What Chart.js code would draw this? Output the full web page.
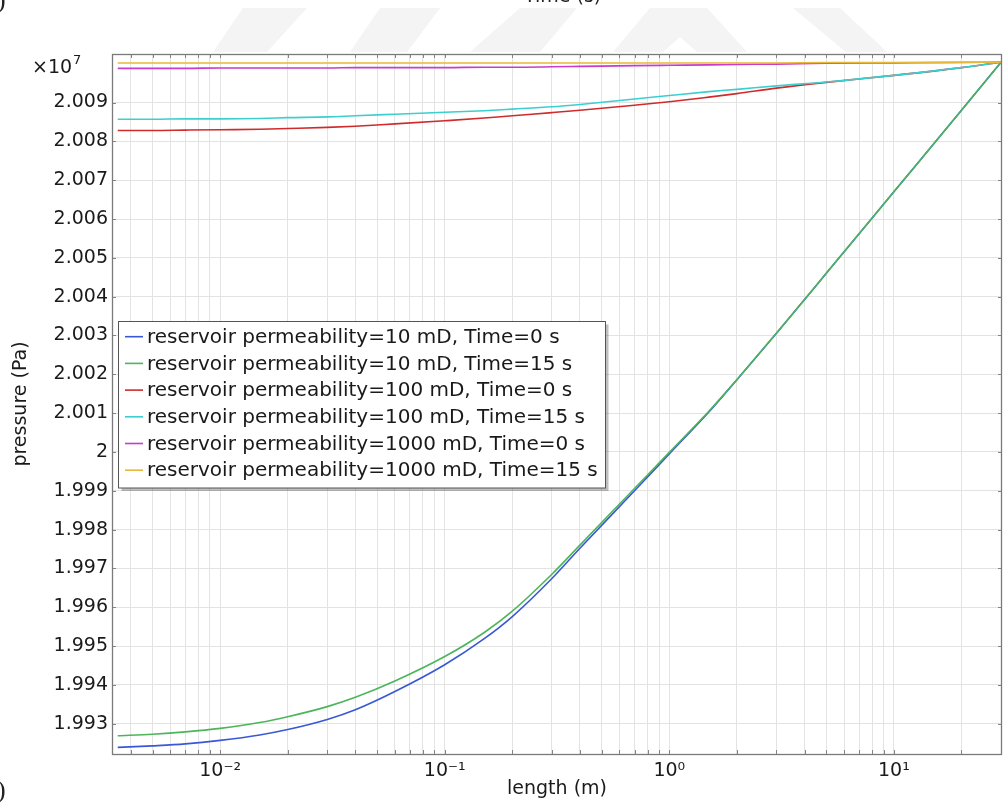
<!DOCTYPE html>
<html><head><meta charset="utf-8">
<script src="https://cdn.jsdelivr.net/npm/chart.js@4.4.1/dist/chart.umd.min.js"></script>
<style>html,body{margin:0;padding:0;background:#fff;}#wrap{width:1003px;height:804px;position:relative;}</style>
</head><body><div id="wrap"><canvas id="c"></canvas></div>
<script>
// ---- data (pressure in units of 1e7 Pa) ----
const lengthM   = [0.0035,0.005,0.007,0.01,0.015,0.02,0.03,0.04,0.06,0.1,0.15,0.2,0.3,0.4,0.7,1,1.5,2,3,5,10,20,30];
const p10_t0    = [1.99239,1.99243,1.99248,1.99257,1.99271,1.99285,1.99311,1.99336,1.99383,1.99452,1.99519,1.99576,1.99674,1.99752,1.99900,1.99995,2.00103,2.00186,2.00306,2.00460,2.00670,2.00880,2.01004];
const p10_t15   = [1.99269,1.99273,1.99279,1.99288,1.99303,1.99318,1.99344,1.99368,1.99410,1.99473,1.99535,1.99590,1.99685,1.99760,1.99906,1.99999,2.00105,2.00186,2.00306,2.00460,2.00670,2.00880,2.01004];
const p100_t0   = [2.00828,2.00828,2.00829,2.00830,2.00831,2.00833,2.00836,2.00839,2.00845,2.00853,2.00860,2.00866,2.00874,2.00880,2.00893,2.00902,2.00914,2.00923,2.00937,2.00952,2.00970,2.00990,2.01004];
const p100_t15  = [2.00857,2.00857,2.00858,2.00858,2.00859,2.00861,2.00863,2.00866,2.00870,2.00875,2.00879,2.00883,2.00889,2.00895,2.00909,2.00918,2.00928,2.00934,2.00943,2.00953,2.00970,2.00990,2.01004];
const p1000_t0  = [2.00988,2.00988,2.00988,2.00989,2.00989,2.00989,2.00989,2.00990,2.00990,2.00990,2.00991,2.00991,2.00992,2.00993,2.00995,2.00996,2.00997,2.00998,2.00999,2.01001,2.01002,2.01003,2.01004];
const p1000_t15 = [2.01002,2.01002,2.01002,2.01002,2.01002,2.01002,2.01002,2.01002,2.01002,2.01002,2.01002,2.01002,2.01002,2.01002,2.01002,2.01002,2.01002,2.01002,2.01002,2.01003,2.01003,2.01004,2.01004];
const seriesLabels = [
  'reservoir permeability=10 mD, Time=0 s',
  'reservoir permeability=10 mD, Time=15 s',
  'reservoir permeability=100 mD, Time=0 s',
  'reservoir permeability=100 mD, Time=15 s',
  'reservoir permeability=1000 mD, Time=0 s',
  'reservoir permeability=1000 mD, Time=15 s'
];
const seriesValues = [p10_t0,p10_t15,p100_t0,p100_t15,p1000_t0,p1000_t15];
const yTickValues = [1.993,1.994,1.995,1.996,1.997,1.998,1.999,2.000,2.001,2.002,2.003,2.004,2.005,2.006,2.007,2.008,2.009];
const xMajorTicks = [0.01,0.1,1,10];
const xMajorLabels = ['10⁻²','10⁻¹','10⁰','10¹'];
const xAxisTitle = 'length (m)';
const yAxisTitle = 'pressure (Pa)';
const yMultiplier = '×10';
const yMultiplierExp = '7';

// ---- styles ----
const colors = ['#3a58d6','#4cb55a','#d02b2b','#3ccfcf','#c83cc8','#e8b838'];
const FONT = "'DejaVu Sans', sans-serif";
const X_MIN = 0.0033, X_MAX = 30.3, Y_MIN = 1.99222, Y_MAX = 2.01025;

// x tick positions (1..9 per decade)
const xTickValues = [];
for (let e = -3; e <= 1; e++) for (let m = 1; m <= 9; m++) {
  const v = +(m * Math.pow(10, e)).toPrecision(3);
  if (v >= X_MIN && v <= X_MAX) xTickValues.push(v);
}
const isMajorX = v => xMajorTicks.some(t => Math.abs(t - v) / t < 1e-6);

const datasets = seriesValues.map((vals, i) => ({
  label: seriesLabels[i],
  data: lengthM.map((x, j) => ({x: x, y: vals[j]})),
  borderColor: colors[i],
  backgroundColor: colors[i],
  borderWidth: 1.6,
  pointRadius: 0,
  fill: false,
  cubicInterpolationMode: 'monotone',
  order: seriesValues.length - i
}));

const decoPlugin = {
  id: 'deco',
  beforeDraw(chart) {
    const ctx = chart.ctx;
    ctx.save();
    ctx.fillStyle = '#fff';
    ctx.fillRect(0, 0, chart.width, chart.height);
    // faint watermark shapes above the plot
    ctx.fillStyle = '#f4f4f4';
    const polys = [
      [[243,8],[307,8],[267,52],[213,52]],
      [[380,8],[440,8],[407,52],[350,52]],
      [[520,8],[577,8],[540,52],[470,52]],
      [[650,8],[707,8],[747,52],[613,52]],
      [[793,8],[840,8],[887,52],[846,52]]
    ];
    polys.forEach(p => { ctx.beginPath(); ctx.moveTo(p[0][0],p[0][1]); p.slice(1).forEach(q=>ctx.lineTo(q[0],q[1])); ctx.closePath(); ctx.fill(); });
    ctx.fillStyle = '#fff';
    ctx.beginPath(); ctx.moveTo(663,52); ctx.lineTo(680,37); ctx.lineTo(697,52); ctx.closePath(); ctx.fill();
    // clipped surrounding text
    ctx.fillStyle = '#222';
    ctx.font = '19px ' + FONT;
    ctx.textBaseline = 'alphabetic';
    ctx.fillText('Time (s)', 524, 2);
    ctx.font = "26px 'Liberation Serif', serif";
    ctx.fillText(')', -3, 8);
    ctx.fillText(')', -3, 798);
    ctx.restore();
  },
  afterDatasetsDraw(chart) {
    const ctx = chart.ctx, a = chart.chartArea;
    const xs = chart.scales.x, ys = chart.scales.y;
    ctx.save();
    ctx.strokeStyle = '#858585';
    ctx.lineWidth = 1;
    ctx.beginPath();
    xTickValues.forEach(v => {
      const px = Math.round(xs.getPixelForValue(v)) + 0.5;
      ctx.moveTo(px, a.top); ctx.lineTo(px, a.top + 4);
      ctx.moveTo(px, a.bottom); ctx.lineTo(px, a.bottom - 4);
    });
    yTickValues.forEach(v => {
      const py = Math.round(ys.getPixelForValue(v)) + 0.5;
      ctx.moveTo(a.left, py); ctx.lineTo(a.left + 4, py);
      ctx.moveTo(a.right, py); ctx.lineTo(a.right - 4, py);
    });
    ctx.stroke();
    ctx.lineWidth = 1.3;
    ctx.strokeStyle = '#7a7a7a';
    ctx.strokeRect(a.left + 0.5, a.top + 0.5, a.right - a.left - 1, a.bottom - a.top);
    ctx.restore();
  },
  afterDraw(chart) {
    const ctx = chart.ctx;
    ctx.save();
    // multiplier
    ctx.fillStyle = '#1a1a1a';
    ctx.textBaseline = 'middle';
    ctx.font = '19px ' + FONT;
    ctx.fillText(yMultiplier, 32, 68);
    const w = ctx.measureText(yMultiplier).width;
    ctx.font = '13px ' + FONT;
    ctx.fillText(yMultiplierExp, 32 + w + 1, 61);
    // legend
    const bx = 118.5, by = 321.5, bw = 487, bh = 166.5;
    ctx.fillStyle = 'rgba(0,0,0,0.25)';
    ctx.fillRect(bx + 3, by + 3, bw, bh);
    ctx.fillStyle = '#fff';
    ctx.fillRect(bx, by, bw, bh);
    ctx.strokeStyle = '#555';
    ctx.lineWidth = 1;
    ctx.strokeRect(bx, by, bw, bh);
    ctx.font = '20px ' + FONT;
    ctx.textBaseline = 'middle';
    chart.data.datasets.forEach((ds, i) => {
      const cy = 336.7 + i * 26.7;
      ctx.strokeStyle = ds.borderColor;
      ctx.lineWidth = 1.6;
      ctx.beginPath(); ctx.moveTo(125, cy); ctx.lineTo(143, cy); ctx.stroke();
      ctx.fillStyle = '#1a1a1a';
      ctx.fillText(ds.label, 147, cy + 1);
    });
    ctx.restore();
  }
};

new Chart(document.getElementById('c'), {
  type: 'line',
  data: { datasets: datasets },
  options: {
    responsive: true,
    maintainAspectRatio: false,
    animation: false,
    layout: { padding: { top: 54, right: 1, left: 0, bottom: 0 } },
    plugins: { legend: { display: false }, tooltip: { enabled: false } },
    scales: {
      x: {
        type: 'logarithmic', min: X_MIN, max: X_MAX,
        afterBuildTicks: s => { s.ticks = xTickValues.map(v => ({ value: v, major: isMajorX(v) })); },
        afterFit: s => { s.height = 50; s.paddingLeft = 0; s.paddingRight = 0; },
        ticks: {
          autoSkip: false, maxRotation: 0, minRotation: 0, padding: 6,
          color: '#1a1a1a', font: { family: FONT, size: 19 },
          callback: v => { const k = xMajorTicks.findIndex(t => Math.abs(t - v) / t < 1e-6); return k >= 0 ? xMajorLabels[k] : ''; }
        },
        grid: { color: '#e3e3e3', lineWidth: 1, drawTicks: false },
        border: { display: false },
        title: { display: true, text: xAxisTitle, color: '#1a1a1a', font: { family: FONT, size: 19 }, padding: { top: 0, bottom: 4 } }
      },
      y: {
        type: 'linear', min: Y_MIN, max: Y_MAX,
        afterBuildTicks: s => { s.ticks = yTickValues.map(v => ({ value: v })); },
        afterFit: s => { s.width = 112; s.paddingTop = 0; s.paddingBottom = 0; },
        ticks: {
          padding: 4, color: '#1a1a1a', font: { family: FONT, size: 19 },
          callback: v => String(parseFloat(Number(v).toFixed(3)))
        },
        grid: { color: '#e3e3e3', lineWidth: 1, drawTicks: false },
        border: { display: false },
        title: { display: true, text: yAxisTitle, color: '#1a1a1a', font: { family: FONT, size: 19 }, padding: { top: 10, bottom: 0 } }
      }
    }
  },
  plugins: [decoPlugin]
});
</script>
</body></html>
